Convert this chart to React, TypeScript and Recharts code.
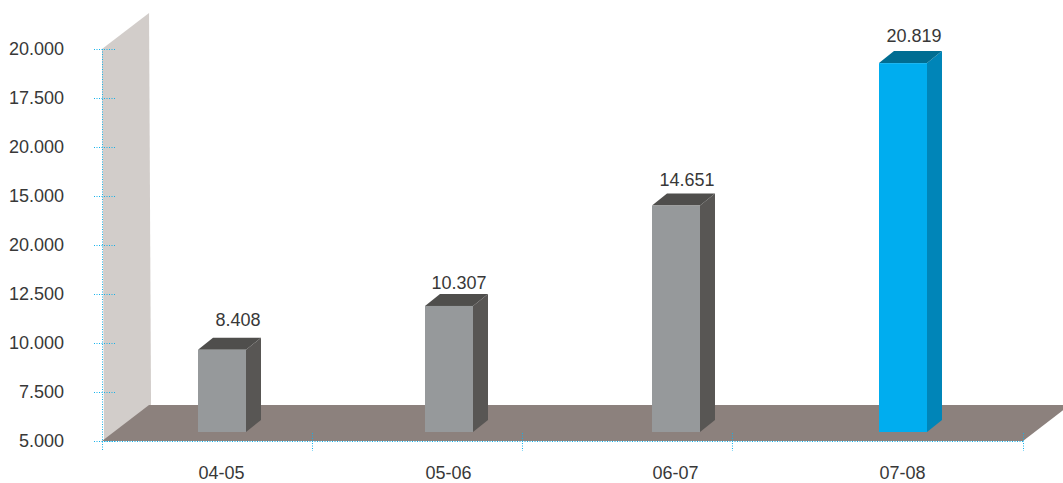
import React from "react";
import { BarChart, Bar, XAxis, YAxis, ReferenceArea, ReferenceLine, LabelList } from "recharts";

const seasons = ["04-05", "05-06", "06-07", "07-08"];
const incomes = [8408, 10307, 14651, 20819];
const yTickLabels = ["5.000", "7.500", "10.000", "12.500", "20.000", "15.000", "20.000", "17.500", "20.000"];
const yTickSteps = [0, 1, 2, 3, 4, 5, 6, 7, 8];
const xTickSteps = [0, 1, 2, 3, 4.386];

const rows = seasons.map((season, i) => ({ season, income: incomes[i] }));

const FONT = "'Liberation Sans', Arial, sans-serif";
const TEXT = "#383838";
const DOT = "#14b1ea";
const DEPTH_X = 15;
const DEPTH_Y = 12;
const FLOOR_GAP = 9;
const PALETTES = [
  { front: "#96999b", top: "#4f4e4c", side: "#585654" },
  { front: "#96999b", top: "#4f4e4c", side: "#585654" },
  { front: "#96999b", top: "#4f4e4c", side: "#585654" },
  { front: "#00adef", top: "#006d92", side: "#0085b8" },
];
const LABEL_NUDGE = [
  { dx: 16, dy: -30 },
  { dx: 10, dy: -23 },
  { dx: 11, dy: -26 },
  { dx: 11, dy: -27 },
];
const dottedLine = { stroke: DOT, strokeDasharray: "1 1.5", strokeWidth: 1 };

const Cuboid = (p: any) => {
  const c = PALETTES[p.index] ?? PALETTES[0];
  const { x, y, width: w, height: h } = p;
  const b = y + h - FLOOR_GAP;
  const r = x + w;
  return (
    <g>
      <polygon points={`${r},${y} ${r + DEPTH_X},${y - DEPTH_Y} ${r + DEPTH_X},${b - DEPTH_Y} ${r},${b}`} fill={c.side} />
      <polygon points={`${x},${y} ${x + DEPTH_X},${y - DEPTH_Y} ${r + DEPTH_X},${y - DEPTH_Y} ${r},${y}`} fill={c.top} />
      <rect x={x} y={y} width={w} height={b - y} fill={c.front} />
    </g>
  );
};

const ValueLabel = (p: any) => {
  const n = LABEL_NUDGE[p.index] ?? LABEL_NUDGE[0];
  const text = String(p.value).replace(/(\d)(\d{3})$/, "$1.$2");
  return (
    <text x={p.x + p.width / 2 + n.dx} y={p.y + n.dy} textAnchor="middle" dominantBaseline="central"
      fontFamily={FONT} fontSize={18} fill={TEXT}>{text}</text>
  );
};

const YTick = (p: any) => (
  <text x={p.x - 36} y={p.y} textAnchor="end" dominantBaseline="central" fontFamily={FONT} fontSize={18} fill={TEXT}>
    {yTickLabels[p.payload.value]}
  </text>
);

// dotted ticks and axis rules: positions come from the scales through ReferenceLine
const HTick = (p: any) => {
  const left = Math.min(p.x1, p.x2);
  return <line x1={left - 8} x2={left + 14} y1={p.y1 + 0.5} y2={p.y1 + 0.5} {...dottedLine} />;
};
const VTick = (p: any) => {
  const low = Math.max(p.y1, p.y2);
  return <line x1={p.x1 + 0.5} x2={p.x1 + 0.5} y1={low - 8} y2={low + 10} {...dottedLine} />;
};
const YRule = (p: any) => {
  const low = Math.max(p.y1, p.y2);
  const high = Math.min(p.y1, p.y2);
  return <line x1={p.x1 + 0.5} x2={p.x1 + 0.5} y1={high} y2={low + 10} {...dottedLine} />;
};
const XRule = (p: any) => <line x1={p.x1} x2={p.x2} y1={p.y1 + 0.5} y2={p.y1 + 0.5} {...dottedLine} />;

const Wall = (p: any) => {
  const { x, y, width: w, height: h } = p;
  return <polygon points={`${x},${y} ${x + w},${y - 36} ${x + w + 2},${y + h - 36} ${x + 2},${y + h}`} fill="#d2cdca" />;
};

const Floor = (p: any) => {
  const { x, y, width: w, height: h } = p;
  return <polygon points={`${x},${y + h} ${x + 47},${y} ${x + w + 47},${y} ${x + w},${y + h}`} fill="#8c817d" />;
};

export default function App() {
  return (
    <div style={{ position: "absolute", left: 0, top: 0, width: 1063, height: 483, background: "#fff" }}>
      <BarChart width={1063} height={483} data={rows} margin={{ top: 49, right: 40, bottom: 0, left: 0 }}>
        <XAxis xAxisId="base" type="number" dataKey={() => 0} domain={[0, 4.386]} ticks={xTickSteps} height={1} tick={false}
          axisLine={false} tickLine={false} interval={0} allowDataOverflow />
        <XAxis xAxisId="cat" dataKey="season" height={41} padding={{ left: 6, right: 7 }} axisLine={false} tickLine={false}
          tickMargin={18} tick={{ fontFamily: FONT, fontSize: 18, fill: TEXT }} interval={0} />
        <YAxis yAxisId="frame" type="number" domain={[0, 8]} ticks={yTickSteps} width={102} tickSize={0} tick={YTick}
          axisLine={false} tickLine={false} interval={0} allowDataOverflow />
        <YAxis yAxisId="bars" hide width={0} type="number" domain={[4460, 21430]} />
        <ReferenceArea xAxisId="base" yAxisId="frame" x1={0} x2={0.224} y1={0} y2={8} shape={Wall} />
        <ReferenceArea xAxisId="base" yAxisId="frame" x1={0} x2={4.386} y1={0} y2={0.735} shape={Floor} />
        <ReferenceLine xAxisId="base" yAxisId="frame" x={0} shape={YRule} />
        <ReferenceLine xAxisId="base" yAxisId="frame" y={0} shape={XRule} />
        {yTickSteps.map((v) => (
          <ReferenceLine key={`h${v}`} xAxisId="base" yAxisId="frame" y={v} shape={HTick} />
        ))}
        {xTickSteps.slice(1).map((v) => (
          <ReferenceLine key={`v${v}`} xAxisId="base" yAxisId="frame" x={v} shape={VTick} />
        ))}
        <Bar xAxisId="cat" yAxisId="bars" dataKey="income" barSize={48} shape={Cuboid} isAnimationActive={false}>
          <LabelList dataKey="income" content={ValueLabel} />
        </Bar>
      </BarChart>
    </div>
  );
}
